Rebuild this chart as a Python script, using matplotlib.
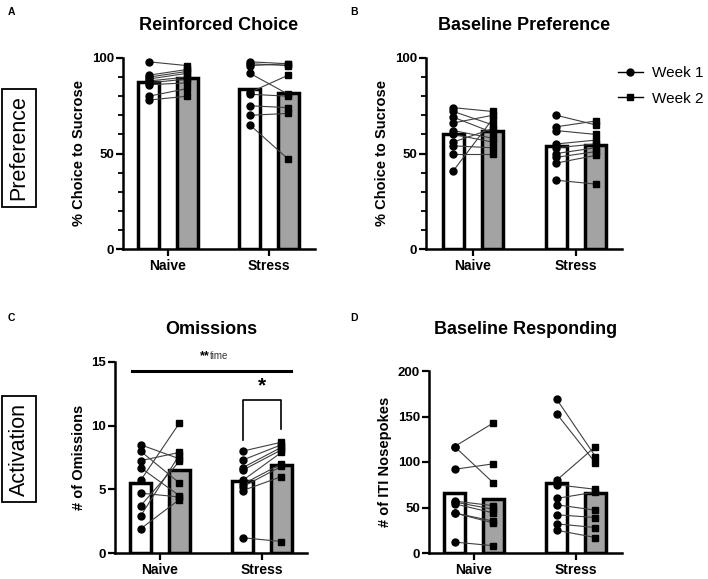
import numpy as np
import matplotlib
matplotlib.use('Agg')
import matplotlib.pyplot as plt
from matplotlib.ticker import MultipleLocator
from matplotlib.lines import Line2D

plt.rcParams['font.family'] = ['Liberation Sans', 'DejaVu Sans']

groups = ['Naive', 'Stress']
weeks = ['Week 1', 'Week 2']

# Reinforced choice (% choice to sucrose)
rc_naive_w1 = [98, 91, 90, 89, 88, 87, 86, 80, 78]
rc_naive_w2 = [96, 94, 93, 92, 90, 89, 87, 84, 80]
rc_stress_w1 = [98, 97, 96, 92, 82, 81, 75, 70, 65]
rc_stress_w2 = [97, 96, 97, 81, 91, 80, 74, 71, 47]

# Baseline preference (% choice to sucrose)
bp_naive_w1 = [74, 72, 69, 66, 62, 60, 56, 54, 50, 41]
bp_naive_w2 = [72, 65, 61, 70, 58, 56, 63, 53, 50, 68]
bp_stress_w1 = [70, 64, 62, 55, 53, 50, 48, 45, 36]
bp_stress_w2 = [65, 67, 60, 57, 55, 53, 51, 49, 34]

# Omissions
om_naive_w1 = [8.5, 8.0, 7.25, 6.7, 5.7, 4.7, 3.7, 2.9, 1.9]
om_naive_w2 = [7.4, 5.5, 7.9, 4.5, 10.2, 4.4, 7.2, 7.7, 4.2]
om_stress_w1 = [8.0, 7.3, 6.7, 6.5, 5.7, 5.4, 5.2, 4.9, 1.2]
om_stress_w2 = [8.7, 8.5, 8.3, 8.1, 7.9, 7.0, 6.8, 6.0, 0.9]

# Baseline responding (ITI nosepokes)
iti_naive_w1 = [117, 117, 92, 57, 56, 54, 44, 44, 12]
iti_naive_w2 = [143, 77, 98, 52, 48, 44, 35, 33, 8]
iti_stress_w1 = [169, 153, 80, 75, 60, 53, 42, 32, 25]
iti_stress_w2 = [106, 99, 117, 70, 67, 47, 39, 28, 17]

W = 708
H = 579
fig = plt.figure(figsize=(W / 100, H / 100), dpi=100)


def px_axes(left, right, bottom, top):
    return fig.add_axes([left / W, 1 - bottom / H, (right - left) / W, (bottom - top) / H])


def panel(ax, data, ylim, major, minor, ylabel, title, xlim, tpad=20):
    off = 0.19
    bw = 0.21
    for gi, (w1, w2) in enumerate(data):
        x1 = gi - off
        x2 = gi + off
        ax.bar(x1, np.mean(w1), width=bw, color='white', edgecolor='black', linewidth=2.5, zorder=1)
        ax.bar(x2, np.mean(w2), width=bw, color='#a3a3a3', edgecolor='black', linewidth=2.5, zorder=1)
        for a, b in zip(w1, w2):
            ax.plot([x1, x2], [a, b], color='#404040', lw=0.8, zorder=2)
        ax.plot([x1] * len(w1), w1, 'o', color='black', ms=5, zorder=3)
        ax.plot([x2] * len(w2), w2, 's', color='black', ms=5, zorder=3)
    ax.set_xlim(*xlim)
    ax.set_ylim(*ylim)
    ax.yaxis.set_major_locator(MultipleLocator(major))
    if minor:
        ax.yaxis.set_minor_locator(MultipleLocator(minor))
    ax.set_xticks([0, 1])
    ax.set_xticklabels(groups, fontsize=10, fontweight='bold')
    for lab in ax.get_yticklabels():
        lab.set_fontweight('bold')
    ax.tick_params(axis='y', labelsize=9.5, length=5, width=1.6, pad=1.5)
    ax.tick_params(axis='y', which='minor', length=3.5, width=1.3)
    ax.tick_params(axis='x', length=5, width=1.6, pad=2)
    for s in ['top', 'right']:
        ax.spines[s].set_visible(False)
    for s in ['left', 'bottom']:
        ax.spines[s].set_linewidth(1.8)
    ax.set_ylabel(ylabel, fontsize=10.5, fontweight='bold', labelpad=4)
    ax.set_title(title, fontsize=13, fontweight='bold', pad=tpad)


axA = px_axes(123, 315, 249, 58)
panel(axA, [(rc_naive_w1, rc_naive_w2), (rc_stress_w1, rc_stress_w2)],
      (0, 100), 50, 10, '% Choice to Sucrose', 'Reinforced Choice', (-0.446, 1.455))

axB = px_axes(426, 622, 249, 58)
panel(axB, [(bp_naive_w1, bp_naive_w2), (bp_stress_w1, bp_stress_w2)],
      (0, 100), 50, 10, '% Choice to Sucrose', 'Baseline Preference', (-0.456, 1.447))

axC = px_axes(115, 307, 553, 362)
panel(axC, [(om_naive_w1, om_naive_w2), (om_stress_w1, om_stress_w2)],
      (0, 15), 5, None, '# of Omissions', 'Omissions', (-0.441, 1.441))

axD = px_axes(429, 622, 553, 371)
panel(axD, [(iti_naive_w1, iti_naive_w2), (iti_stress_w1, iti_stress_w2)],
      (0, 200), 50, None, '# of ITI Nosepokes', 'Baseline Responding', (-0.441, 1.45), tpad=26.5)

# significance marks on omissions
axC.plot([-0.275, 1.284], [14.3, 14.3], color='black', lw=2.2, clip_on=False)
axC.text(0.49, 14.95, '**', fontsize=9, fontweight='bold', ha='right', va='bottom')
axC.text(0.49, 15.1, 'time', fontsize=7, color='#333333', ha='left', va='bottom')
axC.plot([0.81, 0.81, 1.19, 1.19], [8.9, 12.0, 12.0, 9.7], color='black', lw=1.2)
axC.text(1.0, 12.4, '*', fontsize=15, fontweight='bold', ha='center', va='bottom')

# panel letters
for lbl, x, y in [('A', 8, 12), ('B', 350, 12), ('C', 8, 318), ('D', 350, 318)]:
    fig.text(x / W, 1 - y / H, lbl, fontsize=7.5, fontweight='bold', va='center')

# row labels
box = dict(boxstyle='square,pad=0.3', fc='white', ec='black', lw=1.3)
fig.text(19 / W, 1 - 148 / H, 'Preference', rotation=90, fontsize=15.5,
         ha='center', va='center', bbox=box)
fig.text(19 / W, 1 - 449 / H, 'Activation', rotation=90, fontsize=15.5,
         ha='center', va='center', bbox=box)

# legend
handles = [Line2D([0], [0], color='black', lw=1, marker='o', ms=5),
           Line2D([0], [0], color='black', lw=1, marker='s', ms=5)]
fig.legend(handles, weeks, loc='upper left', bbox_to_anchor=(612 / W, 1 - 60 / H),
           frameon=False, fontsize=11, handlelength=1.6, handletextpad=0.6,
           labelspacing=0.75, borderaxespad=0)

fig.savefig('out.png', dpi=100)
